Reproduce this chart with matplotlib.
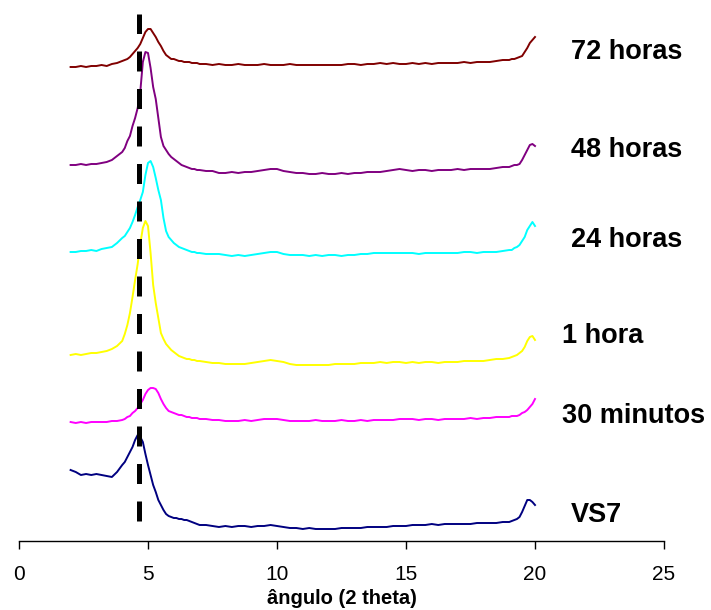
import matplotlib
matplotlib.use("Agg")
import matplotlib.pyplot as plt

plt.rcParams['font.family'] = ['Liberation Sans', 'DejaVu Sans']

# 2-theta sampling (degrees)
two_theta = [
    2.0, 2.2, 2.4, 2.6, 2.8, 3.0, 3.2, 3.4, 3.6, 3.8,
    4.0, 4.1, 4.2, 4.3, 4.4, 4.5, 4.6, 4.7, 4.8, 4.9,
    5.0, 5.1, 5.2, 5.3, 5.4, 5.5, 5.6, 5.7, 5.8, 5.9,
    6.0, 6.1, 6.2, 6.3, 6.4, 6.5, 6.6, 6.7, 6.8, 6.9,
    7.0, 7.25, 7.5, 7.75, 8.0, 8.25, 8.5, 8.75, 9.0, 9.25,
    9.5, 9.75, 10.0, 10.25, 10.5, 10.75, 11.0, 11.25, 11.5, 11.75,
    12.0, 12.25, 12.5, 12.75, 13.0, 13.25, 13.5, 13.75, 14.0, 14.25,
    14.5, 14.75, 15.0, 15.25, 15.5, 15.75, 16.0, 16.25, 16.5, 16.75,
    17.0, 17.25, 17.5, 17.75, 18.0, 18.25, 18.5, 18.75, 19.0, 19.1,
    19.2, 19.3, 19.4, 19.5, 19.6, 19.7, 19.8, 19.9, 20.0,
]

# stacked intensities (a.u., offset per sample)
vs7 = [
    71, 69, 66, 67, 66, 67, 66, 65, 64, 69,
    76, 79, 84, 89, 94, 101, 106, 104, 99, 87,
    76, 66, 56, 49, 41, 36, 31, 27, 25, 24,
    23, 23, 22, 22, 21, 21, 20, 19, 18, 17,
    16, 16, 15, 14, 15, 14, 15, 15, 14, 15,
    15, 16, 15, 14, 13, 13, 12, 13, 12, 12,
    12, 12, 13, 13, 13, 13, 14, 14, 14, 14,
    15, 15, 15, 16, 16, 16, 17, 16, 17, 17,
    17, 17, 17, 18, 18, 18, 18, 19, 19, 20,
    21, 22, 24, 29, 35, 41, 41, 39, 36,
]
min30 = [
    119, 118, 119, 118, 119, 119, 119, 119, 120, 120,
    121, 122, 124, 125, 128, 130, 133, 137, 141, 147,
    151, 153, 153, 152, 148, 142, 137, 133, 130, 129,
    128, 127, 126, 126, 125, 124, 124, 123, 123, 123,
    122, 122, 121, 121, 120, 120, 120, 121, 120, 121,
    122, 122, 122, 121, 120, 120, 120, 120, 121, 120,
    120, 120, 121, 120, 120, 121, 120, 121, 121, 121,
    121, 122, 122, 122, 121, 122, 122, 121, 122, 122,
    122, 122, 123, 122, 123, 123, 124, 124, 124, 125,
    125, 125, 126, 128, 129, 131, 134, 137, 142,
]
h1 = [
    186, 187, 186, 187, 188, 188, 189, 190, 192, 195,
    200, 207, 216, 228, 244, 261, 277, 297, 313, 320,
    315, 288, 256, 238, 223, 208, 202, 197, 194, 191,
    189, 187, 185, 184, 183, 182, 182, 181, 181, 180,
    180, 179, 178, 178, 177, 177, 177, 177, 178, 179,
    180, 181, 180, 179, 177, 176, 176, 176, 176, 176,
    176, 177, 177, 177, 177, 178, 178, 178, 179, 178,
    179, 179, 178, 179, 178, 179, 179, 178, 179, 179,
    179, 180, 180, 180, 180, 181, 182, 182, 183, 184,
    185, 186, 188, 190, 194, 200, 204, 205, 201,
]
h24 = [
    289, 289, 290, 290, 291, 290, 292, 293, 294, 298,
    303, 305, 309, 313, 319, 326, 334, 341, 349, 366,
    378, 380, 374, 363, 351, 341, 323, 310, 304, 301,
    298, 296, 294, 293, 292, 291, 290, 289, 289, 288,
    288, 287, 287, 287, 286, 285, 286, 285, 286, 287,
    288, 289, 289, 287, 286, 286, 286, 285, 286, 285,
    286, 286, 285, 286, 286, 287, 287, 288, 288, 288,
    288, 288, 288, 288, 287, 288, 288, 288, 288, 288,
    288, 289, 289, 288, 289, 289, 289, 290, 291, 291,
    293, 294, 296, 300, 304, 311, 315, 319, 315,
]
h48 = [
    376, 376, 377, 376, 377, 377, 378, 379, 381, 385,
    389, 393, 400, 405, 415, 423, 433, 449, 479, 489,
    488, 473, 454, 442, 423, 404, 395, 391, 387, 384,
    382, 380, 378, 376, 375, 374, 373, 372, 372, 371,
    371, 370, 370, 368, 368, 369, 368, 369, 369, 370,
    371, 372, 372, 370, 369, 368, 368, 367, 367, 368,
    367, 367, 368, 367, 368, 368, 369, 369, 369, 370,
    371, 372, 371, 370, 371, 371, 370, 371, 371, 371,
    372, 371, 372, 372, 372, 372, 373, 374, 374, 375,
    376, 376, 377, 381, 386, 391, 396, 397, 395,
]
h72 = [
    474, 474, 475, 474, 475, 475, 476, 475, 477, 478,
    480, 481, 482, 484, 487, 490, 493, 497, 503, 509,
    512, 512, 508, 504, 499, 495, 490, 486, 484, 482,
    482, 481, 480, 480, 479, 479, 479, 478, 478, 478,
    477, 477, 476, 477, 476, 476, 477, 476, 476, 476,
    477, 476, 476, 476, 477, 476, 476, 476, 476, 476,
    476, 476, 476, 477, 477, 476, 477, 477, 478, 477,
    478, 477, 477, 478, 477, 478, 477, 478, 478, 478,
    478, 479, 478, 479, 479, 479, 480, 481, 481, 482,
    482, 483, 484, 485, 489, 493, 498, 501, 504,
]

series = [vs7, min30, h1, h24, h48, h72]
names = ["VS7", "30 minutos", "1 hora", "24 horas", "48 horas", "72 horas"]
colors = ["#000080", "#FF00FF", "#FFFF00", "#00FFFF", "#800080", "#800000"]

# reference peak position
ref_peak = 4.65

# label placement (x in degrees, baseline in a.u.)
label_x = [21.4, 21.05, 21.05, 21.4, 21.4, 21.4]
label_y = [19, 118, 198, 294, 384, 482]

fig = plt.figure(figsize=(7.11, 6.10), dpi=100)
ax = fig.add_axes([19 / 711, 69 / 610, 645 / 711, 541 / 610])

for ys, c in zip(series, colors):
    ax.plot(two_theta, ys, color=c, lw=1.4)

ax.vlines(ref_peak, 20, 527, colors="black", lw=3.6,
          linestyles=(0, (4.0, 3.5)), zorder=5)

for name, lx, ly in zip(names, label_x, label_y):
    ax.text(lx, ly, name, fontsize=19.5, fontweight="bold",
            ha="left", va="baseline")

ax.set_xlim(0, 25)
ax.set_ylim(0, 541)
ax.set_xticks([0, 5, 10, 15, 20, 25])
ax.set_yticks([])
for s in ["left", "right", "top"]:
    ax.spines[s].set_visible(False)
ax.spines["bottom"].set_linewidth(1.0)
ax.tick_params(axis="x", direction="out", length=6, width=1.0,
               labelsize=15, pad=11)
ax.set_xlabel("ângulo (2 theta)", fontsize=14.5, fontweight="bold", labelpad=4)

fig.savefig("out.png", dpi=100)
